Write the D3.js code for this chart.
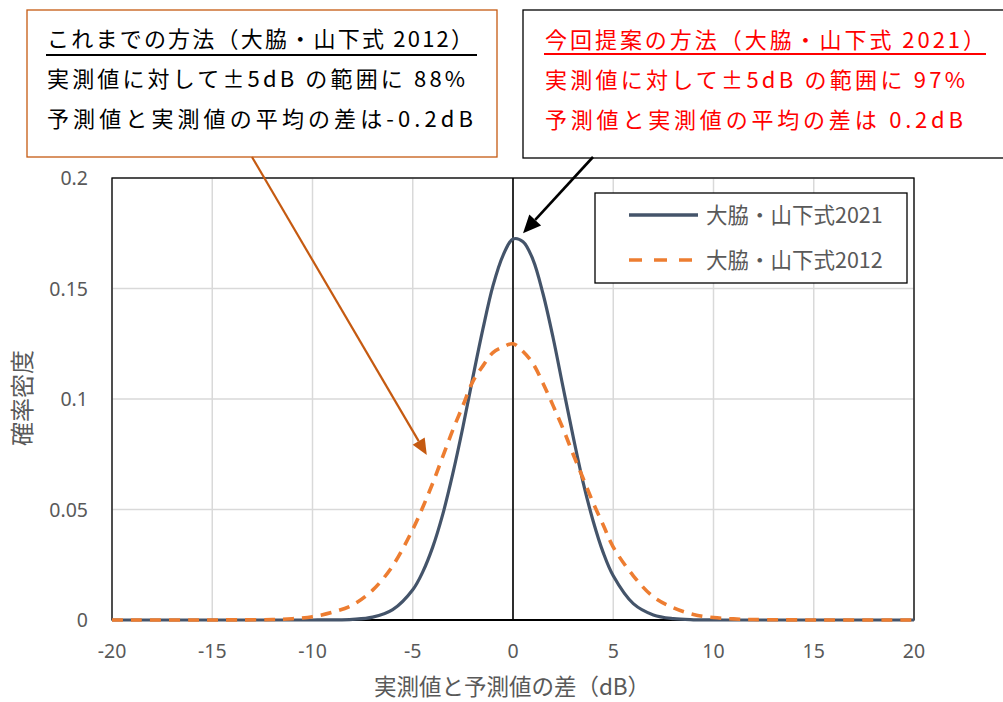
<!DOCTYPE html>
<html><head><meta charset="utf-8">
<script src="https://cdn.jsdelivr.net/npm/d3@7"></script>
<style>body{margin:0;background:#fff}svg{display:block}</style>
</head><body>
<svg id="c" width="1003" height="702"></svg>
<script>
// ---- data ----
const xValues    = [-20,-15,-12,-11,-10,-9,-8,-7,-6,-5,-4.5,-4,-3.5,-3,-2.5,-2,-1.5,-1,-0.5,0,0.5,1,1.5,2,2.5,3,3.5,4,4.5,5,6,7,8,9,10,11,12,15,20];
const series2021 = [0,0,0,0,0.00001,0.00006,0.0003,0.0013,0.0047,0.0137,0.0218,0.0331,0.0479,0.0663,0.0872,0.1099,0.1317,0.1512,0.1649,0.1724,0.1712,0.163,0.1475,0.1277,0.1052,0.083,0.0622,0.0447,0.0305,0.020,0.0074,0.0023,0.0006,0.0001,0.00002,0,0,0,0];
const series2012 = [0,0.00002,0.0002,0.0006,0.0015,0.0035,0.0068,0.0135,0.0245,0.041,0.051,0.062,0.074,0.086,0.097,0.108,0.115,0.121,0.1235,0.125,0.1215,0.116,0.107,0.097,0.0865,0.075,0.064,0.053,0.043,0.033,0.020,0.0105,0.0055,0.0025,0.0011,0.0005,0.0002,0.00002,0];
const seriesNames = ["大脇・山下式2021","大脇・山下式2012"];
const xTicks = [-20,-15,-10,-5,0,5,10,15,20];
const xTickLabels = ["-20","-15","-10","-5","0","5","10","15","20"];
const yTicks = [0,0.05,0.1,0.15,0.2];
const yTickLabels = ["0","0.05","0.1","0.15","0.2"];
const xTitle = "実測値と予測値の差（dB）";
const yTitle = "確率密度";
const noteOld = ["これまでの方法（大脇・山下式 2012）","実測値に対して±5dB の範囲に 88%","予測値と実測値の平均の差は-0.2dB"];
const noteNew = ["今回提案の方法（大脇・山下式 2021）","実測値に対して±5dB の範囲に 97%","予測値と実測値の平均の差は 0.2dB"];
// annotation arrow targets (data coords)
const arrowOldTarget = [-4.3, 0.0747];
const arrowNewTarget = [0.5, 0.175];

// ---- layout ----
const svg = d3.select("#c");
const L = 112, R = 914, T = 178, B = 620;
const x = d3.scaleLinear().domain([-20,20]).range([L,R]);
const y = d3.scaleLinear().domain([0,0.2]).range([B,T]);
const gray = "#595959";
const tickFont = "'Noto Sans', sans-serif";
const jpFont = "'Noto Sans CJK JP', sans-serif";

// grid
svg.append("g").selectAll("line").data(xTicks).join("line")
  .attr("x1",d=>x(d)).attr("x2",d=>x(d)).attr("y1",T).attr("y2",B)
  .attr("stroke","#d9d9d9").attr("stroke-width",1.5);
svg.append("g").selectAll("line").data(yTicks).join("line")
  .attr("x1",L).attr("x2",R).attr("y1",d=>y(d)).attr("y2",d=>y(d))
  .attr("stroke","#d9d9d9").attr("stroke-width",1.5);
// frame
svg.append("rect").attr("x",L).attr("y",T).attr("width",R-L).attr("height",B-T)
  .attr("fill","none").attr("stroke","#000").attr("stroke-width",1.3);
// zero line
svg.append("line").attr("x1",x(0)).attr("x2",x(0)).attr("y1",T).attr("y2",B)
  .attr("stroke","#000").attr("stroke-width",1.6);
svg.append("line").attr("x1",L).attr("x2",R).attr("y1",y(0)).attr("y2",y(0))
  .attr("stroke","#000").attr("stroke-width",2.2);

// tick labels
svg.append("g").selectAll("text").data(yTicks).join("text")
  .attr("x",88).attr("y",d=>y(d)+7).attr("text-anchor","end")
  .attr("font-family",tickFont).attr("font-size",19.5).attr("fill",gray)
  .text((d,i)=>yTickLabels[i]);
svg.append("g").selectAll("text").data(xTicks).join("text")
  .attr("x",d=>x(d)).attr("y",658).attr("text-anchor","middle")
  .attr("font-family",tickFont).attr("font-size",19.5).attr("fill",gray)
  .text((d,i)=>xTickLabels[i]);
// axis titles
svg.append("text").attr("transform","translate(31,398) rotate(-90)")
  .attr("text-anchor","middle").attr("font-family",jpFont).attr("font-size",24)
  .attr("fill",gray).text(yTitle);
svg.append("text").attr("x",512).attr("y",695).attr("text-anchor","middle")
  .attr("font-family",jpFont).attr("font-size",22.5).attr("fill",gray).text(xTitle);

// series
const line = d3.line().x(d=>x(d[0])).y(d=>y(d[1])).curve(d3.curveCatmullRom.alpha(0.5));
const d2021 = xValues.map((v,i)=>[v,series2021[i]]);
const d2012 = xValues.map((v,i)=>[v,series2012[i]]);
const blue = "#44546A", orange = "#ED7D31";
svg.append("path").attr("d",line(d2021)).attr("fill","none")
  .attr("stroke",blue).attr("stroke-width",3.2).attr("stroke-linejoin","round");
svg.append("path").attr("d",line(d2012)).attr("fill","none")
  .attr("stroke",orange).attr("stroke-width",3.6).attr("stroke-dasharray","11,8");

// legend
const lg = svg.append("g");
lg.append("rect").attr("x",595).attr("y",193).attr("width",312).attr("height",90)
  .attr("fill","#fff").attr("stroke","#000").attr("stroke-width",1.3);
const legendItems = [{name:seriesNames[0],color:blue,dash:null},{name:seriesNames[1],color:orange,dash:"13,12"}];
legendItems.forEach((it,i)=>{
  const yy = 215 + i*45;
  lg.append("line").attr("x1",629).attr("x2",698).attr("y1",yy).attr("y2",yy)
    .attr("stroke",it.color).attr("stroke-width",3.4).attr("stroke-dasharray",it.dash);
  lg.append("text").attr("x",706).attr("y",yy+8).attr("font-family",jpFont)
    .attr("font-size",21.5).attr("fill",gray).text(it.name);
});

// annotation boxes
function arrow(x1,y1,x2,y2,color,w,hl,hw){
  const a = Math.atan2(y2-y1,x2-x1);
  const bx = x2 - hl*Math.cos(a), by = y2 - hl*Math.sin(a);
  svg.append("line").attr("x1",x1).attr("y1",y1).attr("x2",bx).attr("y2",by)
    .attr("stroke",color).attr("stroke-width",w);
  const px = -Math.sin(a)*hw/2, py = Math.cos(a)*hw/2;
  svg.append("polygon").attr("points",`${x2},${y2} ${bx+px},${by+py} ${bx-px},${by-py}`)
    .attr("fill",color);
}
// old box
svg.append("rect").attr("x",27).attr("y",10).attr("width",470).attr("height",147)
  .attr("fill","#fff").attr("stroke","#C55A11").attr("stroke-width",1.3);
const oldW = [426,418,426];
noteOld.forEach((t,i)=>{
  svg.append("text").attr("x",47).attr("y",47+i*40).attr("font-family",jpFont)
    .attr("font-size",22).attr("fill","#000")
    .attr("textLength",oldW[i]).attr("lengthAdjust","spacing").text(t);
});
svg.append("line").attr("x1",46).attr("x2",477).attr("y1",55).attr("y2",55)
  .attr("stroke","#000").attr("stroke-width",2);
// new box
svg.append("rect").attr("x",523).attr("y",10).attr("width",500).attr("height",148)
  .attr("fill","#fff").attr("stroke","#000").attr("stroke-width",1.3);
const newW = [440,420,418];
noteNew.forEach((t,i)=>{
  svg.append("text").attr("x",545).attr("y",48+i*40).attr("font-family",jpFont)
    .attr("font-size",22).attr("fill","#ff0000")
    .attr("textLength",newW[i]).attr("lengthAdjust","spacing").text(t);
});
svg.append("line").attr("x1",544).attr("x2",986).attr("y1",54).attr("y2",54)
  .attr("stroke","#ff0000").attr("stroke-width",2);

// arrows
arrow(252,157,x(arrowOldTarget[0]),y(arrowOldTarget[1]),"#C55A11",2.2,16,14);
arrow(593,157,x(arrowNewTarget[0]),y(arrowNewTarget[1]),"#000",2.6,18,16);
</script>
</body></html>
